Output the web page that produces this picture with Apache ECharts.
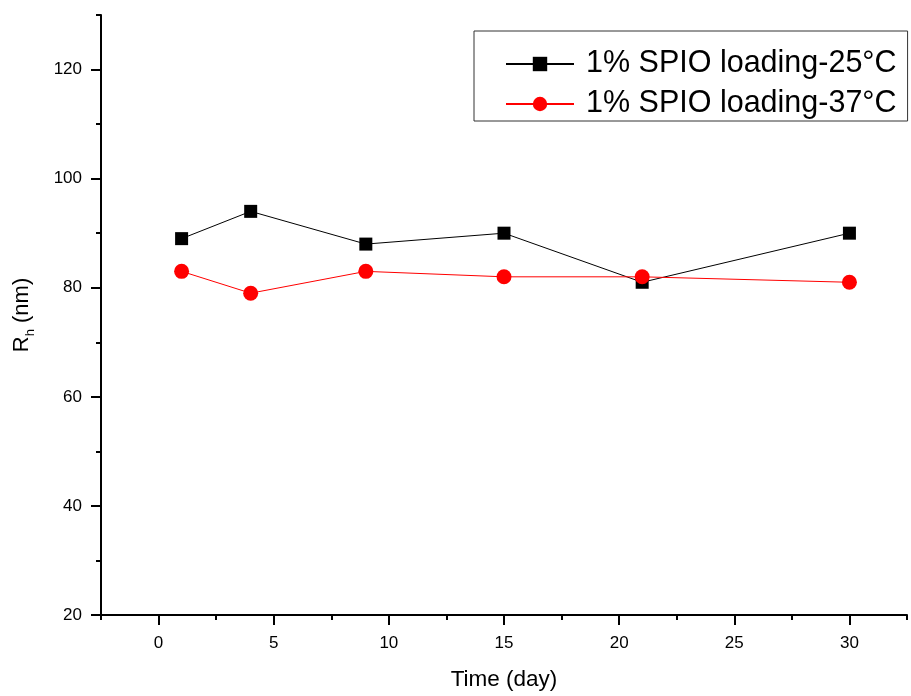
<!DOCTYPE html>
<html>
<head>
<meta charset="utf-8">
<script src="https://cdn.jsdelivr.net/npm/echarts@6/dist/echarts.min.js"></script>
<style>
html,body{margin:0;padding:0;background:#fff;}
#c{width:911px;height:696px;}
</style>
</head>
<body>
<div id="c"></div>
<script>
var days = [1, 4, 9, 15, 21, 30];
var rh25 = [89, 94, 88, 90, 81, 90];
var rh37 = [83, 79, 83, 82, 82, 81];
var seriesNames = ['1% SPIO loading-25\u00B0C', '1% SPIO loading-37\u00B0C'];
var xMajor = [0, 5, 10, 15, 20, 25, 30];
var xMinor = [-2.5, 2.5, 7.5, 12.5, 17.5, 22.5, 27.5, 32.5];
var yMajor = [20, 40, 60, 80, 100, 120];
var yMinor = [30, 50, 70, 90, 110, 130];

var FONT = '"Liberation Sans", Arial, sans-serif';
var chart = echarts.init(document.getElementById('c'), null, {renderer: 'canvas'});
function pairs(xs, ys) { return xs.map(function (x, i) { return [x, ys[i]]; }); }

var gridPos = {left: 101, top: 15, right: 4, bottom: 81, containLabel: false};
chart.setOption({
  backgroundColor: '#fff',
  animation: false,
  grid: [Object.assign({}, gridPos), Object.assign({}, gridPos)],
  legend: {
    orient: 'vertical',
    left: 474, top: 31,
    padding: [16, 11, 0, 31],
    itemGap: 6,
    itemWidth: 68,
    itemHeight: 18,
    borderColor: '#333', borderWidth: 1,
    textStyle: {fontFamily: FONT, fontSize: 30.5, color: '#000', lineHeight: 34, padding: [0, 0, 0, 7]},
    data: seriesNames
  },
  xAxis: [{
    type: 'value', gridIndex: 0, min: -2.5, max: 32.5, interval: 2.5,
    name: 'Time (day)', nameLocation: 'middle', nameGap: 53,
    nameTextStyle: {fontFamily: FONT, fontSize: 22.5, color: '#000'},
    axisLine: {onZero: false, lineStyle: {color: '#000', width: 2}},
    axisTick: {customValues: xMajor, length: 10, lineStyle: {color: '#000', width: 2}},
    axisLabel: {customValues: xMajor, margin: 20, fontFamily: FONT, fontSize: 17, color: '#000'},
    splitLine: {show: false}
  }, {
    type: 'value', gridIndex: 1, min: -2.5, max: 32.5, interval: 2.5, position: 'bottom',
    axisLine: {show: false, onZero: false},
    axisTick: {customValues: xMinor, length: 5, lineStyle: {color: '#000', width: 2}},
    axisLabel: {show: false},
    splitLine: {show: false}
  }],
  yAxis: [{
    type: 'value', gridIndex: 0, min: 20, max: 130, interval: 10,
    name: '{a|R}{b|h}{a| (nm)}', nameLocation: 'middle', nameGap: 64,
    nameTextStyle: {
      fontFamily: FONT, color: '#000',
      rich: {
        a: {fontFamily: FONT, fontSize: 22, color: '#000', verticalAlign: 'middle'},
        b: {fontFamily: FONT, fontSize: 13, color: '#000', verticalAlign: 'bottom', padding: [18, 0, 0, 0]}
      }
    },
    axisLine: {onZero: false, lineStyle: {color: '#000', width: 2}},
    axisTick: {customValues: yMajor, length: 10, lineStyle: {color: '#000', width: 2}},
    axisLabel: {customValues: yMajor, margin: 19, fontFamily: FONT, fontSize: 17, color: '#000'},
    splitLine: {show: false}
  }, {
    type: 'value', gridIndex: 1, min: 20, max: 130, interval: 10, position: 'left',
    axisLine: {show: false, onZero: false},
    axisTick: {customValues: yMinor, length: 5, lineStyle: {color: '#000', width: 2}},
    axisLabel: {show: false},
    splitLine: {show: false}
  }],
  series: [{
    name: seriesNames[0], type: 'line', xAxisIndex: 0, yAxisIndex: 0,
    data: pairs(days, rh25),
    symbol: 'rect', symbolSize: 13,
    itemStyle: {color: '#000'},
    lineStyle: {color: '#000', width: 1}
  }, {
    name: seriesNames[1], type: 'line', xAxisIndex: 0, yAxisIndex: 0,
    data: pairs(days, rh37),
    symbol: 'circle', symbolSize: 15,
    itemStyle: {color: '#ff0000'},
    lineStyle: {color: '#ff0000', width: 1}
  }]
});
</script>
</body>
</html>
